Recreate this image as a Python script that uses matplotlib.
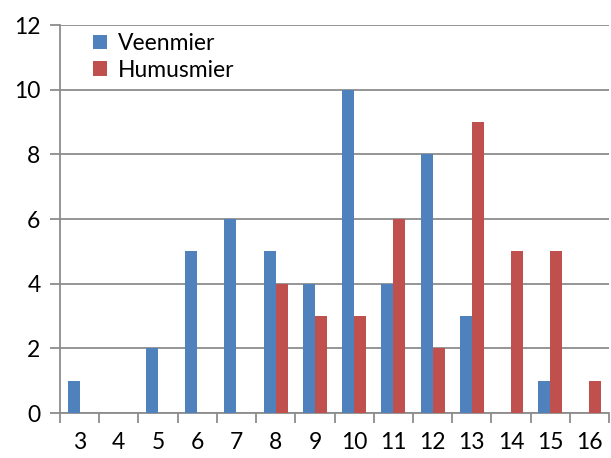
import matplotlib
matplotlib.use("Agg")
import matplotlib.pyplot as plt
import numpy as np

categories = ["3", "4", "5", "6", "7", "8", "9", "10", "11", "12", "13", "14", "15", "16"]
veenmier = [1, 0, 2, 5, 6, 5, 4, 10, 4, 8, 3, 0, 1, 0]
humusmier = [0, 0, 0, 0, 0, 4, 3, 3, 6, 2, 9, 5, 5, 1]
yticks = [0, 2, 4, 6, 8, 10, 12]

plt.rcParams['font.family'] = ['Lato', 'DejaVu Sans']

fig = plt.figure(figsize=(6.11, 4.58), dpi=100)
ax = fig.add_axes([60/611, 45/458, 549/611, 388/458])

x = np.arange(len(categories))
w = 0.306
blue = "#4F81BD"
red = "#C0504D"
ax.bar(x - w/2, veenmier, w, color=blue, label="Veenmier", zorder=3)
ax.bar(x + w/2, humusmier, w, color=red, label="Humusmier", zorder=3)

ax.set_xlim(-0.5, len(categories) - 0.5)
ax.set_ylim(0, 12)
ax.set_yticks(yticks)
ax.set_yticklabels([str(v) for v in yticks], fontsize=16.5)
ax.set_xticks(x)
ax.set_xticklabels(categories, fontsize=16.5)
ax.set_xticks(np.arange(-0.5, len(categories) + 0.5, 1), minor=True)

grid_c = "#8C8C8C"
ax.yaxis.grid(True, color=grid_c, linewidth=1.3, zorder=0)
ax.tick_params(axis='x', which='major', length=0, pad=14)
ax.tick_params(axis='x', which='minor', length=7, color=grid_c, width=1.3, direction='out')
ax.tick_params(axis='y', length=7, color=grid_c, width=1.3, pad=7)

for s in ['top', 'right']:
    ax.spines[s].set_visible(False)
for s in ['left', 'bottom']:
    ax.spines[s].set_color(grid_c)
    ax.spines[s].set_linewidth(1.3)

leg = ax.legend(loc='upper left', bbox_to_anchor=(0.035, 1.015), frameon=False,
                fontsize=16.5, handlelength=0.6, handleheight=0.6, handletextpad=0.5,
                labelspacing=0.25, borderaxespad=0.2)

fig.savefig("out.png", dpi=100)
